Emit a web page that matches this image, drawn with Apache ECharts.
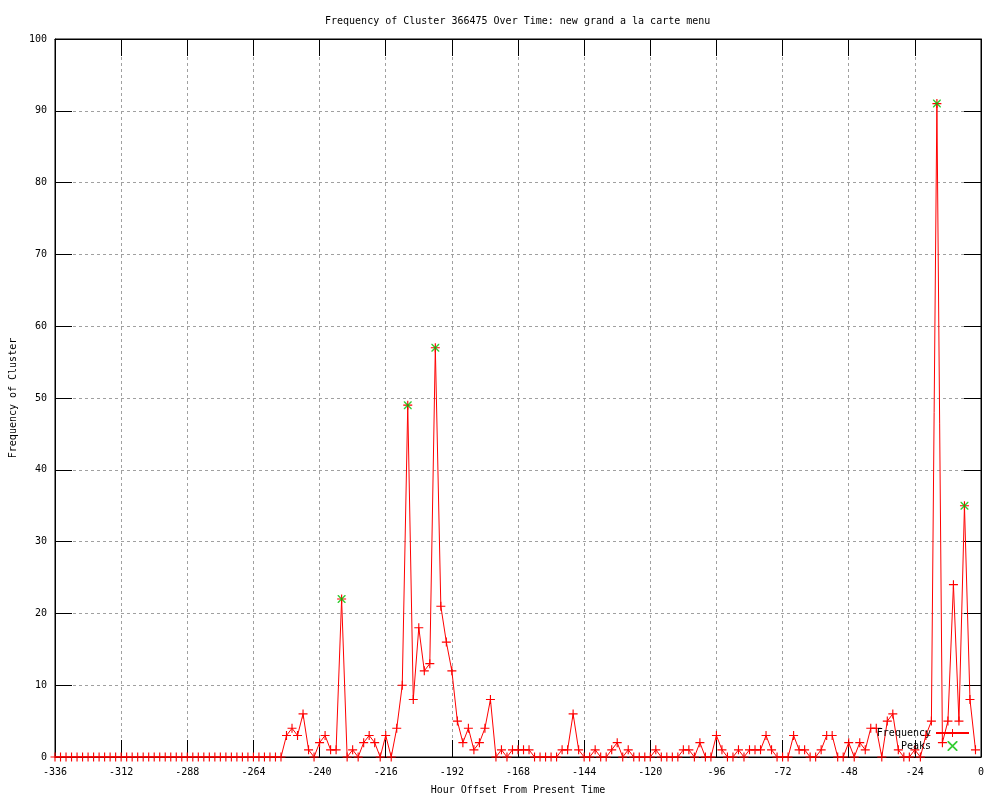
<!DOCTYPE html>
<html>
<head>
<meta charset="utf-8">
<script src="https://cdn.jsdelivr.net/npm/echarts@6/dist/echarts.min.js"></script>
<style>
html,body{margin:0;padding:0;background:#fff;}
#chart{width:1000px;height:800px;}
</style>
</head>
<body>
<div id="chart"></div>
<script>
// Data: hourly offsets sampled every 2 hours, from -336 to -2
const startHour = -336;
const stepHours = 2;
const frequencyValues = [
  0,0,0,0,0,0,0,0,0,0,
  0,0,0,0,0,0,0,0,0,0,
  0,0,0,0,0,0,0,0,0,0,
  0,0,0,0,0,0,0,0,0,0,
  0,0,
  3,4,3,6,1,0,2,3,1,1,
  22,0,1,0,2,3,2,0,3,0,
  4,10,49,8,18,12,13,57,21,16,
  12,5,2,4,1,2,4,8,0,1,
  0,1,1,1,1,0,0,0,0,0,
  1,1,6,1,0,0,1,0,0,1,
  2,0,1,0,0,0,0,1,0,0,
  0,0,1,1,0,2,0,0,3,1,
  0,0,1,0,1,1,1,3,1,0,
  0,0,3,1,1,0,0,1,3,3,
  0,0,2,0,2,1,4,4,0,5,
  6,1,0,0,1,0,3,5,91,2,
  5,24,5,35,8,1
];
const peakHours = [-232, -208, -198, -16, -6];
const peakValues = [22, 49, 57, 91, 35];
const xTicks = { min: -336, max: 0, interval: 24 };
const yTicks = { min: 0, max: 100, interval: 10 };

const titleText = 'Frequency of Cluster 366475 Over Time: new grand a la carte menu';
const xName = 'Hour Offset From Present Time';
const yName = 'Frequency of Cluster';

const freqData = frequencyValues.map((v, i) => [startHour + i * stepHours, v]);
const peakData = peakHours.map((h, i) => [h, peakValues[i]]);

const FONT = 'DejaVu Sans Mono';
const plusSym = 'path://M0,3.5H8V4.5H0Z M3.5,0H4.5V8H3.5Z';
const xSym = 'path://M0,0L1,0L8,7L8,8L7,8L0,1Z M7,0L8,0L8,1L1,8L0,8L0,7Z';

const chart = echarts.init(document.getElementById('chart'), null, {renderer: 'canvas'});
const gridLine = { show: true, lineStyle: { color: '#a0a0a0', type: [3, 3], width: 1 } };
const tickStyle = { show: true, inside: true, length: 17, lineStyle: { color: '#000', width: 1 } };
const labelStyle = { fontFamily: FONT, fontSize: 10, color: '#000' };

chart.setOption({
  animation: false,
  backgroundColor: '#fff',
  title: {
    text: titleText,
    left: 320, top: 11,
    textStyle: { fontFamily: FONT, fontSize: 10, fontWeight: 'normal', color: '#000' }
  },
  grid: { left: 55, right: 19, top: 39, bottom: 40, containLabel: false, show: true, borderColor: '#000', borderWidth: 1, backgroundColor: 'transparent' },
  legend: {
    orient: 'vertical', right: 30, top: 728, align: 'right',
    itemWidth: 33, itemHeight: 10, itemGap: 3, padding: 0,
    textStyle: { fontFamily: FONT, fontSize: 10, color: '#000' },
    data: ['Frequency', 'Peaks']
  },
  xAxis: [{
    type: 'value', min: xTicks.min, max: xTicks.max, interval: xTicks.interval,
    name: xName, nameLocation: 'middle', nameGap: 28,
    nameTextStyle: labelStyle,
    axisLine: { show: true, onZero: false, lineStyle: { color: '#000' } },
    axisTick: tickStyle,
    axisLabel: Object.assign({ margin: 10 }, labelStyle),
    splitLine: gridLine
  }, {
    type: 'value', position: 'top', min: xTicks.min, max: xTicks.max, interval: xTicks.interval,
    axisLine: { show: true, onZero: false, lineStyle: { color: '#000' } },
    axisTick: tickStyle, axisLabel: { show: false }, splitLine: { show: false }
  }],
  yAxis: [{
    type: 'value', min: yTicks.min, max: yTicks.max, interval: yTicks.interval,
    name: yName, nameLocation: 'middle', nameGap: 37, nameRotate: 90,
    nameTextStyle: labelStyle,
    axisLine: { show: true, onZero: false, lineStyle: { color: '#000' } },
    axisTick: tickStyle,
    axisLabel: Object.assign({ margin: 8 }, labelStyle),
    splitLine: gridLine
  }, {
    type: 'value', position: 'right', min: yTicks.min, max: yTicks.max, interval: yTicks.interval,
    axisLine: { show: true, onZero: false, lineStyle: { color: '#000' } },
    axisTick: tickStyle, axisLabel: { show: false }, splitLine: { show: false }
  }],
  series: [{
    name: 'Frequency', type: 'line', data: freqData,
    xAxisIndex: 0, yAxisIndex: 0,
    symbol: plusSym, symbolSize: 9, showAllSymbol: true,
    lineStyle: { color: '#ff0000', width: 1 },
    itemStyle: { color: '#ff0000' },
    z: 3
  }, {
    name: 'Peaks', type: 'scatter', data: peakData,
    xAxisIndex: 0, yAxisIndex: 0,
    symbol: xSym, symbolSize: 8,
    itemStyle: { color: '#00c000' },
    z: 4
  }]
});
</script>
</body>
</html>
